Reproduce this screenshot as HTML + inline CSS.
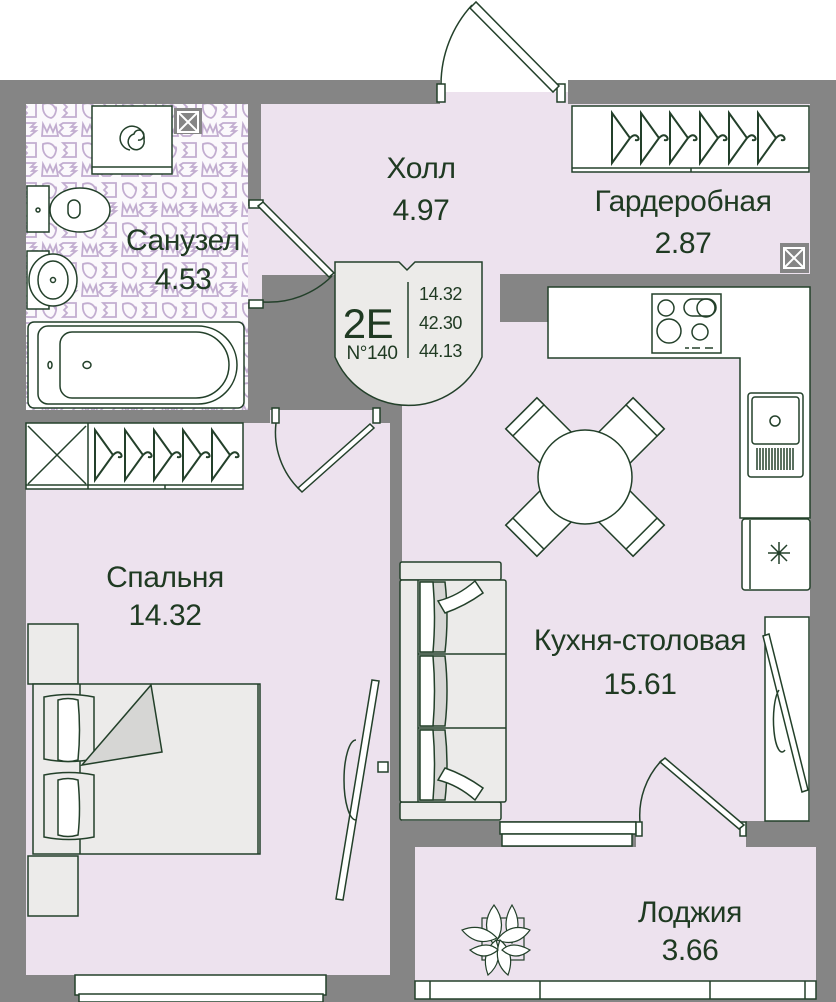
<!DOCTYPE html>
<html><head><meta charset="utf-8"><style>
html,body{margin:0;padding:0;background:#fff;}
svg{display:block}
text{font-family:"Liberation Sans",sans-serif;fill:#1f3a22;letter-spacing:-0.4px}
</style></head><body>
<svg width="836" height="1002" viewBox="0 0 836 1002" xmlns="http://www.w3.org/2000/svg">
<defs>
<pattern id="tile" width="40" height="40" patternUnits="userSpaceOnUse">
<rect width="40" height="40" fill="#fbf9fc"/>
<g fill="none" stroke="#c2add0" stroke-width="1.8">
<path d="M3 4 l4 8 l3-7 l3 7 l3-7 l2 11 h-16z"/>
<path d="M23 3 h12 l-4 4 h5 l-4 4 h4 l-6 5 h-7 l-4-4 l4-4 l-3-3z"/>
<path d="M3 24 c6-2 10 0 12 4 c2-4 2 8-4 10 c-6-1-9-7-8-14z"/>
<path d="M23 23 h13 v14 h-13 l4-4 l-3-3 l3-3 l-3-3z"/>
</g>
</pattern>
</defs>
<rect x="0" y="80" width="836" height="922" fill="#858585"/>
<rect x="440" y="78" width="128" height="14" fill="#fff"/>
<rect x="440" y="92" width="128" height="14" fill="#ede2ee"/>
<rect x="261" y="104" width="549" height="171" fill="#ede2ee"/>
<rect x="26" y="104" width="222" height="306" fill="url(#tile)"/>
<rect x="26" y="423" width="364" height="552" fill="#ede2ee"/>
<rect x="270" y="410" width="108" height="14" fill="#ede2ee"/>
<rect x="402" y="322" width="408" height="499" fill="#ede2ee"/>
<rect x="402" y="274" width="98" height="48" fill="#ede2ee"/>
<rect x="636" y="820" width="110" height="28" fill="#ede2ee"/>
<rect x="415" y="847" width="401" height="134" fill="#ede2ee"/>
<rect x="248" y="206" width="14" height="96" fill="#ede2ee"/>
<rect x="500" y="274" width="310" height="13" fill="#858585"/>
<rect x="500" y="274" width="48" height="48" fill="#858585"/>

<g stroke="#23402a" stroke-width="1.5" fill="#fff">
<rect x="437" y="84" width="8" height="18"/>
<rect x="557" y="84" width="8" height="18"/>
<path d="M441 84 A118 118 0 0 1 472 5" fill="none"/>
<polygon points="470,8 476,2 559,86 553,92"/>
<rect x="249" y="200" width="14" height="8"/>
<rect x="249" y="300" width="14" height="8"/>
<polygon points="258,206 263,202 334,273 329,277"/>
<path d="M263 302 A90 90 0 0 0 332 276" fill="none"/>
<rect x="92" y="106" width="80" height="68"/>
<line x1="92" y1="167" x2="172" y2="167"/>
<path d="M130 150 a12 12 0 1 1 14 -10 a8 8 0 1 1 -10 -6 a5 5 0 1 1 4 6" fill="none"/>
<rect x="174" y="108" width="28" height="26" fill="#858585" stroke="none"/>
<path d="M178 112 h20 v20 h-20z M178 112 l20 20 M198 112 l-20 20" stroke="#fff" stroke-width="2" fill="none"/>
<rect x="27" y="186" width="22" height="46"/>
<ellipse cx="80" cy="210" rx="30" ry="22"/>
<rect x="68" y="200" width="12" height="18" rx="6"/>
<circle cx="38" cy="210" r="2"/>
<rect x="27" y="251" width="22" height="58"/>
<ellipse cx="53" cy="280" rx="24" ry="26"/>
<ellipse cx="53" cy="280" rx="15" ry="19"/>
<circle cx="53" cy="280" r="2.5"/>
<rect x="28" y="322" width="216" height="86" rx="6"/>
<path d="M48 326 h150 a39 39 0 0 1 0 78 h-150 a10 10 0 0 1 -10 -10 v-58 a10 10 0 0 1 10 -10z" fill="none"/>
<path d="M72 332 h124 a33 33 0 0 1 0 66 h-124 a12 12 0 0 1 -12 -12 v-42 a12 12 0 0 1 12 -12z" fill="none"/>
<ellipse cx="50" cy="365" rx="2" ry="3.5"/>
<ellipse cx="87" cy="365" rx="4" ry="3.5"/>
<rect x="572" y="106" width="237" height="66"/>
<line x1="572" y1="168" x2="809" y2="168"/>
<line x1="691" y1="168" x2="691" y2="172"/>
<g fill="none" stroke-width="2">
<path d="M612 113 v50 l18-25z m18 25 q5 -5 8 -1 q2 4 -3 3"/>
<path d="M641 113 v50 l18-25z m18 25 q5 -5 8 -1 q2 4 -3 3"/>
<path d="M670 113 v50 l18-25z m18 25 q5 -5 8 -1 q2 4 -3 3"/>
<path d="M700 113 v50 l18-25z m18 25 q5 -5 8 -1 q2 4 -3 3"/>
<path d="M729 113 v50 l18-25z m18 25 q5 -5 8 -1 q2 4 -3 3"/>
<path d="M758 113 v50 l18-25z m18 25 q5 -5 8 -1 q2 4 -3 3"/>
</g>
<rect x="780" y="243" width="29" height="30" fill="#858585" stroke="none"/>
<path d="M784 248 h20 v20 h-20z M784 248 l20 20 M804 248 l-20 20" stroke="#fff" stroke-width="2" fill="none"/>
<path d="M335 262 h64 l8 8 l8 -8 h67 v95 a80 80 0 0 1 -147 0z" fill="#ecebe9"/>
<line x1="408" y1="282" x2="408" y2="358"/>
<path d="M548 287 h262 v231 h-70 v-160 h-192z"/>
<rect x="652" y="294" width="69" height="59"/>
<circle cx="666" cy="308" r="8" fill="none"/>
<rect x="684" y="299" width="32" height="17" rx="8.5" fill="none"/>
<circle cx="706" cy="308" r="9" fill="none"/>
<circle cx="669" cy="331" r="12" fill="none"/>
<circle cx="700" cy="332" r="8" fill="none"/>
<path d="M685 348 h4 M692 348 h8 M705 348 h8" />
<rect x="748" y="393" width="55" height="84" rx="3"/>
<rect x="752" y="397" width="47" height="47" rx="3"/>
<circle cx="775" cy="421" r="5"/>
<path d="M757 448 v22 M760 448 v22 M763 448 v22 M766 448 v22 M769 448 v22 M772 448 v22 M775 448 v22 M778 448 v22 M781 448 v22 M784 448 v22 M787 448 v22 M790 448 v22 M793 448 v22" fill="none"/>
<rect x="742" y="519" width="68" height="71" rx="3"/>
<line x1="750" y1="520" x2="750" y2="589"/>
<path d="M768 553 h22 M779 542 v22 M771 545 l16 16 M787 545 l-16 16" fill="none"/>
<g transform="translate(585 477)">
<g transform="rotate(-45)"><rect x="-22" y="-90" width="44" height="50"/><rect x="-22" y="-90" width="44" height="10"/></g>
<g transform="rotate(45)"><rect x="-22" y="-90" width="44" height="50"/><rect x="-22" y="-90" width="44" height="10"/></g>
<g transform="rotate(135)"><rect x="-22" y="-90" width="44" height="50"/><rect x="-22" y="-90" width="44" height="10"/></g>
<g transform="rotate(-135)"><rect x="-22" y="-90" width="44" height="50"/><rect x="-22" y="-90" width="44" height="10"/></g>
<circle r="47"/>
</g>
<rect x="272" y="408" width="7" height="15"/>
<rect x="373" y="408" width="7" height="15"/>
<polygon points="298,488 302,492 374,428 370,424"/>
<path d="M276 423 A80 80 0 0 0 300 490" fill="none"/>
<rect x="26" y="423" width="217" height="66"/>
<line x1="26" y1="485" x2="243" y2="485"/>
<line x1="88" y1="423" x2="88" y2="489"/>
<line x1="165" y1="485" x2="165" y2="489"/>
<path d="M28 426 L86 484 M86 426 L28 484" fill="none"/>
<g fill="none" stroke-width="2">
<path d="M95 430 v50 l18-25z m18 25 q5 -5 8 -1 q2 4 -3 3"/>
<path d="M125 430 v50 l18-25z m18 25 q5 -5 8 -1 q2 4 -3 3"/>
<path d="M154 430 v50 l18-25z m18 25 q5 -5 8 -1 q2 4 -3 3"/>
<path d="M183 430 v50 l18-25z m18 25 q5 -5 8 -1 q2 4 -3 3"/>
<path d="M212 430 v50 l18-25z m18 25 q5 -5 8 -1 q2 4 -3 3"/>
</g>
<rect x="28" y="624" width="50" height="60" fill="#ecebea"/>
<rect x="28" y="856" width="50" height="60" fill="#ecebea"/>
<rect x="33" y="684" width="227" height="170" fill="#ecebea"/>
<line x1="80" y1="684" x2="80" y2="854"/>
<line x1="258" y1="684" x2="258" y2="854"/>
<path d="M44 697 q25 -5 50 0 v62 q-25 5 -50 0z" fill="#ecebea"/>
<path d="M58 700 q10 -3 20 0 q3 30 0 60 q-10 3 -20 0z"/>
<path d="M44 775 q25 -5 50 0 v62 q-25 5 -50 0z" fill="#ecebea"/>
<path d="M58 780 q10 -3 20 0 q3 30 0 55 q-10 3 -20 0z"/>
<polygon points="82,765 151,685 162,752" fill="#d6d6d4"/>
<polygon points="372,680 379,681 343,900 336,899"/>
<path d="M356 740 a12 40 0 0 0 0 80" fill="none"/>
<rect x="378" y="762" width="10" height="10"/>
<rect x="400" y="562" width="101" height="18" rx="2" fill="#ecebea"/>
<rect x="400" y="802" width="101" height="18" rx="2" fill="#ecebea"/>
<rect x="400" y="580" width="106" height="222" rx="2" fill="#ecebea"/>
<line x1="418" y1="580" x2="418" y2="802"/>
<line x1="418" y1="654" x2="506" y2="654"/>
<line x1="418" y1="728" x2="506" y2="728"/>
<path d="M420 582 h25 q4 35 0 70 h-25z" fill="#d6d6d4"/>
<path d="M420 656 h25 q4 35 0 70 h-25z" fill="#d6d6d4"/>
<path d="M420 730 h25 q4 35 0 70 h-25z" fill="#d6d6d4"/>
<path d="M420 582 h13 q3 35 0 70 h-13z"/>
<path d="M420 656 h13 q3 35 0 70 h-13z"/>
<path d="M420 730 h13 q3 35 0 70 h-13z"/>
<path d="M438 601 q20 -5 37 -20 l8 12 q-18 13 -38 20z"/>
<path d="M438 780 q20 5 37 20 l8 -12 q-18 -13 -38 -20z"/>
<rect x="765" y="617" width="44" height="204" fill="#fff"/>
<polygon points="763,636 769,634 808,790 802,792"/>
<path d="M779 690 a8 30 0 0 0 6 60" fill="none"/>
<rect x="500" y="822" width="136" height="12"/>
<rect x="502" y="834" width="130" height="12"/>
<rect x="636" y="822" width="6" height="14"/>
<rect x="740" y="822" width="6" height="14"/>
<polygon points="660,762 665,758 744,825 739,829"/>
<path d="M640 822 A80 80 0 0 1 662 760" fill="none"/>
<rect x="75" y="975" width="251" height="20"/>
<rect x="79" y="994" width="244" height="8"/>
<rect x="415" y="981" width="401" height="18"/>
<path d="M430 981 v18 M540 981 v18 M710 981 v18 M805 981 v18" fill="none"/>
</g>
<g stroke="#23402a" stroke-width="1.2" fill="#fff">
<rect x="482" y="918" width="42" height="42" fill="none"/>
<path d="M494 905 q-15 20 0 40 q15 -20 0 -40z"/>
<path d="M512 905 q-12 20 0 38 q12 -18 0 -38z"/>
<path d="M462 930 q20 -8 35 8 q-20 10 -35 -8z"/>
<path d="M530 930 q-20 -8 -33 10 q20 8 33 -10z"/>
<path d="M488 975 q-8 -22 8 -35 q8 22 -8 35z"/>
<path d="M508 975 q8 -22 -8 -35 q-8 22 8 35z"/>
<path d="M470 950 q18 -10 28 0 q-14 12 -28 0z"/>
<path d="M530 950 q-18 -10 -28 0 q14 12 28 0z"/>
</g>
<g font-size="30" text-anchor="middle">
<text x="421" y="178">Холл</text>
<text x="421" y="220">4.97</text>
<text x="683" y="211">Гардеробная</text>
<text x="683" y="253">2.87</text>
<text x="183" y="250">Санузел</text>
<text x="183" y="289">4.53</text>
<text x="165" y="587">Спальня</text>
<text x="165" y="625">14.32</text>
<text x="640" y="650">Кухня-столовая</text>
<text x="640" y="694">15.61</text>
<text x="690" y="922">Лоджия</text>
<text x="690" y="960">3.66</text>
</g>
<text x="368" y="338" font-size="42" text-anchor="middle" letter-spacing="-2">2E</text>
<text x="372" y="359" font-size="19" text-anchor="middle" letter-spacing="-1">N°140</text>
<g font-size="18" letter-spacing="-0.8">
<text x="419" y="300">14.32</text>
<text x="419" y="329">42.30</text>
<text x="419" y="357">44.13</text>
</g>
</svg>
</body></html>
